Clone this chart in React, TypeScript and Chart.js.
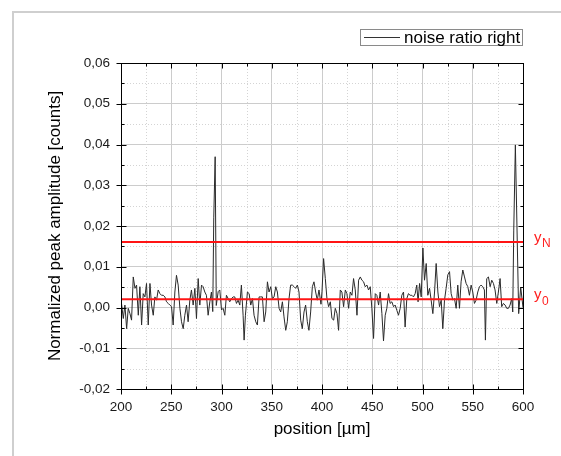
import React, { useEffect, useRef } from "react";
import { Chart, registerables } from "chart.js";

Chart.register(...registerables);

// position [µm]
const positions: number[] = [
  200.0, 202.3, 203.9, 205.6, 207.2, 208.9, 210.5, 212.2, 213.9, 215.5,
  217.2, 218.8, 220.5, 222.1, 223.8, 225.4, 227.1, 228.8, 230.4, 232.1,
  233.7, 235.4, 237.0, 238.7, 240.3, 242.0, 243.7, 245.3, 247.0, 248.6,
  250.3, 251.9, 253.6, 255.2, 256.9, 258.6, 260.2, 261.9, 263.5, 265.2,
  266.8, 268.5, 270.1, 271.8, 273.5, 275.1, 276.8, 278.4, 280.1, 281.7,
  283.4, 285.0, 286.7, 288.4, 290.0, 291.3, 292.3, 293.7, 294.8, 296.7,
  298.3, 300.0, 301.6, 303.3, 304.9, 306.6, 308.2, 309.9, 311.6, 313.2,
  314.9, 316.5, 318.2, 319.8, 321.5, 322.5, 323.8, 325.8, 327.5, 329.1,
  330.8, 332.4, 334.1, 335.7, 337.4, 339.0, 340.7, 342.4, 344.0, 345.7,
  347.3, 349.0, 350.6, 352.3, 354.0, 355.6, 357.3, 358.9, 360.6, 362.2,
  363.9, 365.5, 367.2, 368.8, 370.5, 372.2, 373.8, 375.5, 377.1, 378.8,
  380.4, 382.1, 383.7, 385.4, 387.0, 388.7, 390.4, 392.0, 393.7, 395.3,
  397.0, 399.0, 400.0, 401.6, 403.3, 404.9, 406.6, 408.3, 409.9, 411.6,
  413.2, 414.9, 416.5, 418.2, 419.8, 421.5, 423.2, 424.8, 426.5, 428.1,
  429.8, 431.4, 433.1, 434.8, 436.4, 438.1, 439.7, 441.4, 443.0, 444.7,
  446.3, 448.0, 449.6, 451.3, 453.0, 454.6, 456.3, 457.9, 459.6, 461.2,
  462.9, 464.5, 466.2, 467.8, 469.5, 471.2, 472.8, 474.5, 476.1, 477.8,
  479.4, 481.1, 482.7, 484.4, 486.0, 487.7, 489.4, 491.0, 492.7, 494.3,
  495.6, 497.1, 498.7, 500.4, 502.0, 503.7, 505.3, 507.0, 508.6, 510.3,
  512.0, 513.6, 515.3, 516.9, 518.6, 520.2, 521.9, 523.5, 525.2, 526.9,
  528.5, 530.2, 531.8, 533.5, 535.1, 536.8, 538.4, 540.1, 541.8, 543.4,
  545.1, 546.7, 548.4, 550.0, 551.7, 553.3, 555.0, 556.7, 558.3, 560.0,
  561.6, 562.6, 563.9, 565.6, 567.3, 568.9, 570.6, 572.2, 573.9, 575.5,
  577.2, 578.8, 580.5, 582.2, 583.8, 585.5, 587.1, 588.8, 589.8, 590.8,
  592.4, 595.7, 597.7, 600.0,
];

// Normalized peak amplitude [counts]
const noiseRatioRight: number[] = [
  0.0020, -0.0027, 0.0006, -0.0052, -0.0002, -0.0015, -0.0031, 0.0075, 0.0047, 0.0055,
  -0.0019, 0.0051, -0.0043, 0.0034, 0.0026, 0.0059, -0.0043, 0.0059, 0.0006, -0.0019,
  0.0026, 0.0018, 0.0043, 0.0034, 0.0030, 0.0030, 0.0026, 0.0014, 0.0010, 0.0006,
  0.0002, -0.0043, 0.0038, 0.0079, 0.0055, -0.0002, -0.0035, -0.0052, -0.0019, 0.0006,
  -0.0035, 0.0018, 0.0043, 0.0006, 0.0047, -0.0027, 0.0071, 0.0006, 0.0055, 0.0051,
  0.0038, 0.0030, -0.0019, 0.0014, 0.0038, -0.0010, 0.0220, 0.0370, 0.0005, 0.0039,
  0.0043, -0.0006, -0.0002, -0.0019, 0.0030, 0.0022, 0.0014, 0.0022, 0.0026, 0.0026,
  0.0010, 0.0018, 0.0006, 0.0055, -0.0019, -0.0080, -0.0019, 0.0038, 0.0034, 0.0006,
  0.0022, -0.0019, -0.0035, -0.0043, 0.0026, 0.0026, 0.0026, -0.0035, -0.0011, 0.0063,
  0.0038, 0.0051, 0.0022, 0.0026, 0.0051, 0.0038, -0.0002, -0.0011, 0.0014, -0.0023,
  -0.0056, -0.0035, 0.0022, 0.0055, 0.0055, 0.0051, 0.0047, 0.0055, 0.0038, -0.0031,
  -0.0052, -0.0011, 0.0006, -0.0035, -0.0056, -0.0011, 0.0051, 0.0063, 0.0038, 0.0018,
  0.0043, 0.0008, 0.0040, 0.0120, 0.0071, 0.0022, 0.0002, 0.0014, -0.0027, -0.0031,
  -0.0002, -0.0015, -0.0056, 0.0043, 0.0038, 0.0002, 0.0043, 0.0034, -0.0002, 0.0038,
  0.0030, 0.0071, 0.0043, -0.0019, 0.0067, 0.0075, 0.0067, 0.0063, 0.0051, 0.0055,
  0.0043, 0.0051, -0.0002, -0.0076, 0.0034, 0.0030, 0.0006, 0.0038, -0.0015, -0.0082,
  -0.0019, -0.0002, 0.0034, 0.0010, 0.0014, 0.0002, 0.0006, -0.0007, -0.0019, -0.0002,
  0.0030, 0.0038, -0.0048, 0.0022, 0.0034, 0.0030, 0.0030, 0.0026, 0.0034, 0.0055,
  0.0014, 0.0059, 0.0026, 0.0146, 0.0067, 0.0108, 0.0030, 0.0047, 0.0018, -0.0015,
  0.0038, 0.0108, 0.0038, 0.0002, 0.0018, -0.0052, 0.0018, 0.0047, 0.0080, 0.0088,
  0.0034, 0.0018, 0.0022, -0.0002, 0.0055, -0.0002, 0.0063, 0.0092, 0.0075, 0.0059,
  0.0051, 0.0030, 0.0055, 0.0038, 0.0010, 0.0018, 0.0038, 0.0051, 0.0055, 0.0051,
  0.0043, -0.0080, 0.0071, 0.0075, 0.0051, 0.0067, 0.0059, 0.0043, 0.0010, 0.0038,
  0.0071, 0.0002, 0.0010, 0.0006, -0.0002, -0.0002, 0.0006, 0.0022, -0.0011, 0.0190,
  0.0399, -0.0015, 0.0050, 0.0000,
];

const xRange = [200, 600];
const yRange = [-0.02, 0.06];
const xMajorStep = 50;
const yMajorStep = 0.01;
const y0Level = 0.002;
const yNLevel = 0.0161;
const legendLabel = "noise ratio right";
const xTitle = "position [µm]";
const yTitle = "Normalized peak amplitude [counts]";

const FONT = "'Liberation Sans', Arial, sans-serif";

function fmtY(v: number): string {
  const r = Math.round(v * 100) / 100;
  return (r === 0 ? 0 : r).toFixed(2).replace(".", ",");
}

const decorPlugin = {
  id: "decor",
  beforeDraw(chart: any) {
    const ctx = chart.ctx;
    ctx.save();
    ctx.fillStyle = "#ffffff";
    ctx.fillRect(0, 0, chart.width, chart.height);
    ctx.strokeStyle = "#cfcfcf";
    ctx.lineWidth = 2;
    ctx.strokeRect(13, 12, 700, 700);
    ctx.restore();
  },
  beforeDatasetsDraw(chart: any) {
    const ctx = chart.ctx;
    const ca = chart.chartArea;
    const xs = chart.scales.x;
    const ys = chart.scales.y;
    ctx.save();
    ctx.strokeStyle = "#d4d4d4";
    ctx.lineWidth = 1;
    ctx.setLineDash([1, 2]);
    for (let v = xRange[0] + xMajorStep / 2; v < xRange[1]; v += xMajorStep) {
      const px = Math.round(xs.getPixelForValue(v)) + 0.5;
      ctx.beginPath();
      ctx.moveTo(px, ca.top);
      ctx.lineTo(px, ca.bottom);
      ctx.stroke();
    }
    for (let i = 0; i < 8; i++) {
      const v = yRange[0] + yMajorStep / 2 + i * yMajorStep;
      const py = Math.round(ys.getPixelForValue(v)) + 0.5;
      ctx.beginPath();
      ctx.moveTo(ca.left, py);
      ctx.lineTo(ca.right, py);
      ctx.stroke();
    }
    ctx.restore();
  },
  afterDatasetsDraw(chart: any) {
    const ctx = chart.ctx;
    const ca = chart.chartArea;
    const xs = chart.scales.x;
    const ys = chart.scales.y;
    const L = Math.round(ca.left) + 0.5;
    const R = Math.round(ca.right) + 0.5;
    const T = Math.round(ca.top) + 0.5;
    const B = Math.round(ca.bottom) + 0.5;
    ctx.save();
    ctx.strokeStyle = "#000";
    ctx.lineWidth = 1;
    ctx.setLineDash([]);
    ctx.strokeRect(L, T, R - L, B - T);
    ctx.beginPath();
    for (let i = 0; i <= 16; i++) {
      const v = xRange[0] + (i * xMajorStep) / 2;
      const px = Math.round(xs.getPixelForValue(v)) + 0.5;
      const major = i % 2 === 0;
      if (major) {
        ctx.moveTo(px, B - 5); ctx.lineTo(px, B + 5);
        ctx.moveTo(px, T); ctx.lineTo(px, T + 5);
      } else {
        ctx.moveTo(px, B - 3); ctx.lineTo(px, B);
        ctx.moveTo(px, T); ctx.lineTo(px, T + 3);
      }
    }
    for (let i = 0; i <= 16; i++) {
      const v = yRange[0] + (i * yMajorStep) / 2;
      const py = Math.round(ys.getPixelForValue(v)) + 0.5;
      const major = i % 2 === 0;
      if (major) {
        ctx.moveTo(L - 5, py); ctx.lineTo(L + 5, py);
        ctx.moveTo(R - 5, py); ctx.lineTo(R, py);
      } else {
        ctx.moveTo(L, py); ctx.lineTo(L + 3, py);
        ctx.moveTo(R - 3, py); ctx.lineTo(R, py);
      }
    }
    ctx.stroke();

    // legend
    ctx.strokeStyle = "#8a8a8a";
    ctx.strokeRect(360.5, 29.5, 162, 16);
    ctx.strokeStyle = "#333";
    ctx.beginPath();
    ctx.moveTo(364, 37.5);
    ctx.lineTo(400, 37.5);
    ctx.stroke();
    ctx.fillStyle = "#000";
    ctx.font = `17px ${FONT}`;
    ctx.textBaseline = "middle";
    ctx.textAlign = "left";
    ctx.fillText(legendLabel, 404, 38);

    // level labels
    const drawLevel = (value: number, sub: string) => {
      const py = ys.getPixelForValue(value);
      ctx.fillStyle = "#ff1f1f";
      ctx.textBaseline = "alphabetic";
      ctx.font = `15px ${FONT}`;
      ctx.fillText("y", 534, py);
      const w = ctx.measureText("y").width;
      ctx.font = `12px ${FONT}`;
      ctx.fillText(sub, 534 + w + 0.5, py + 5.5);
    };
    drawLevel(yNLevel, "N");
    drawLevel(y0Level, "0");
    ctx.restore();
  },
};

export default function App() {
  const ref = useRef<HTMLCanvasElement | null>(null);
  useEffect(() => {
    if (!ref.current) return;
    const noisePoints = positions.map((x, i) => ({ x, y: noiseRatioRight[i] }));
    const chart = new Chart(ref.current, {
      type: "line",
      data: {
        datasets: [
          {
            label: "yN",
            data: [
              { x: xRange[0], y: yNLevel },
              { x: xRange[1], y: yNLevel },
            ],
            borderColor: "#ff1414",
            borderWidth: 2,
            pointRadius: 0,
            order: 0,
          },
          {
            label: "y0",
            data: [
              { x: xRange[0], y: y0Level },
              { x: xRange[1], y: y0Level },
            ],
            borderColor: "#ff1414",
            borderWidth: 2,
            pointRadius: 0,
            order: 0,
          },
          {
            label: legendLabel,
            data: noisePoints,
            borderColor: "#2a2a2a",
            borderWidth: 1,
            pointRadius: 0,
            tension: 0,
            order: 1,
          },
        ],
      },
      options: {
        responsive: false,
        animation: false,
        devicePixelRatio: 1,
        layout: { padding: { left: 41, right: 38, top: 63, bottom: 12 } },
        plugins: { legend: { display: false }, tooltip: { enabled: false } },
        scales: {
          x: {
            type: "linear",
            min: xRange[0],
            max: xRange[1],
            afterFit: (s: any) => { s.height = 55; },
            ticks: {
              stepSize: xMajorStep,
              padding: 10,
              color: "#1a1a1a",
              font: { family: FONT, size: 13.5 },
              callback: (v: any) => String(v),
              maxRotation: 0,
            },
            grid: { color: "#cccccc", drawTicks: false, lineWidth: 1 },
            border: { display: false },
            title: {
              display: true,
              text: xTitle,
              color: "#000",
              font: { family: FONT, size: 17 },
              padding: { top: 4, bottom: 4 },
            },
          },
          y: {
            type: "linear",
            min: yRange[0],
            max: yRange[1],
            afterFit: (s: any) => { s.width = 80; },
            ticks: {
              stepSize: yMajorStep,
              padding: 11,
              color: "#1a1a1a",
              font: { family: FONT, size: 13.5 },
              callback: (v: any) => fmtY(Number(v)),
            },
            grid: { color: "#cccccc", drawTicks: false, lineWidth: 1 },
            border: { display: false },
            title: {
              display: true,
              text: yTitle,
              color: "#000",
              font: { family: FONT, size: 17 },
              padding: { top: 4, bottom: 4 },
            },
          },
        },
      },
      plugins: [decorPlugin],
    });
    return () => chart.destroy();
  }, []);
  return (
    <div style={{ position: "fixed", left: 0, top: 0, width: 561, height: 456 }}>
      <canvas ref={ref} width={561} height={456} style={{ width: 561, height: 456, display: "block" }} />
    </div>
  );
}
